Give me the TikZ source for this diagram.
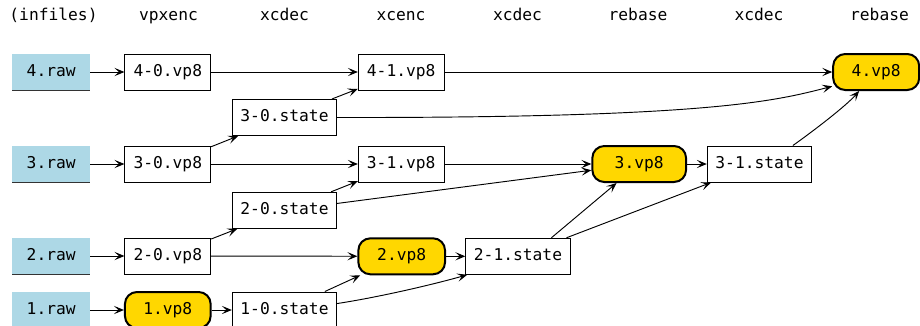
\documentclass[tikz,border=0pt]{standalone}
\usepackage{fontspec}
\setmonofont{DejaVu Sans Mono}
\usetikzlibrary{arrows.meta}
\definecolor{rawblue}{HTML}{ADD8E6}
\definecolor{outgold}{HTML}{FFD700}
\begin{document}
\begin{tikzpicture}[x=0.75pt,y=-0.75pt,
  every node/.style={font=\ttfamily\fontsize{12.2}{14}\selectfont,
    text height=0.8em, text depth=0.2em, inner sep=0pt},
  head/.style={},
  rawbox/.style={fill=rawblue, minimum height=27pt, minimum width=58.3pt},
  box/.style={draw=black, line width=0.75pt, fill=white, minimum height=27pt},
  outbox/.style={draw=black, line width=1.5pt, fill=outgold, rounded corners=9pt,
    minimum height=27pt},
  wvp/.style={minimum width=64.3pt},
  wst/.style={minimum width=78.3pt},
  edge/.style={-{Stealth[length=7.5pt,width=6.2pt,inset=3.4pt]}, line width=0.7pt},
]
\useasboundingbox (0,0) rectangle (920,325);

% column headings
\node[head] (h0) at (53.5,16.5) {(infiles)};
\node[head] (h1) at (168.5,16.5) {vpxenc};
\node[head] (h2) at (284.5,16.5) {xcdec};
\node[head] (h3) at (401,16.5) {xcenc};
\node[head] (h4) at (517.5,16.5) {xcdec};
\node[head] (h5) at (638,16.5) {rebase};
\node[head] (h6) at (759,16.5) {xcdec};
\node[head] (h7) at (879.5,16.5) {rebase};

% input files
\node[rawbox] (r4) at (51.2,72) {4.raw};
\node[rawbox] (r3) at (51.2,164) {3.raw};
\node[rawbox] (r2) at (51.2,256) {2.raw};
\node[rawbox] (r1) at (51.2,310) {1.raw};
\foreach \n in {r1,r2,r3,r4}
  \draw[line width=0.75pt, black!80] (\n.south west) -- (\n.south east);

% intermediate products
\node[box,wvp] (e40) at (167.8,72) {4-0.vp8};
\node[box,wvp] (e41) at (401.2,72) {4-1.vp8};
\node[box,wst] (s30) at (284.5,117.5) {3-0.state};
\node[box,wvp] (e30) at (167.8,164) {3-0.vp8};
\node[box,wvp] (e31) at (401.2,164) {3-1.vp8};
\node[box,wst] (s31) at (759.5,164) {3-1.state};
\node[box,wst] (s20) at (284.5,210.3) {2-0.state};
\node[box,wvp] (e20) at (167.8,256) {2-0.vp8};
\node[box,wst] (s21) at (518,256.3) {2-1.state};
\node[box,wst] (s10) at (284.5,310) {1-0.state};

% final outputs
\node[outbox, minimum width=64.5pt] (v4) at (876.2,72) {4.vp8};
\node[outbox, minimum width=70.3pt] (v3) at (639.2,164) {3.vp8};
\node[outbox, minimum width=65pt] (v2) at (401.7,256.3) {2.vp8};
\node[outbox, minimum width=64.3pt] (v1) at (167.8,310) {1.vp8};

% dependencies
\draw[edge] (r4) -- (e40);
\draw[edge] (e40) -- (e41);
\draw[edge] (e41) -- (v4);
\draw[edge] (e30) -- (s30);
\draw[edge] (s30) -- (e41);
\draw[edge] (s30.east) .. controls (710,118) and (775,101) .. (v4.198);
\draw[edge] (r3) -- (e30);
\draw[edge] (e30) -- (e31);
\draw[edge] (e31) -- (v3);
\draw[edge] (s20) -- (e31);
\draw[edge] (s20) -- (v3);
\draw[edge] (e20) -- (s20);
\draw[edge] (r2) -- (e20);
\draw[edge] (e20) -- (v2);
\draw[edge] (v2) -- (s21);
\draw[edge] (s10) -- (v2);
\draw[edge] (s10.7) .. controls (380,297) and (435,284) .. (s21.200);
\draw[edge] (r1) -- (v1);
\draw[edge] (v1) -- (s10);
\draw[edge] (s21.29) -- (v3);
\draw[edge] (s21) -- (s31);
\draw[edge] (v3) -- (s31);
\draw[edge] (s31.29) .. controls (812,132) and (846,106) .. (v4.228);
\end{tikzpicture}
\end{document}
